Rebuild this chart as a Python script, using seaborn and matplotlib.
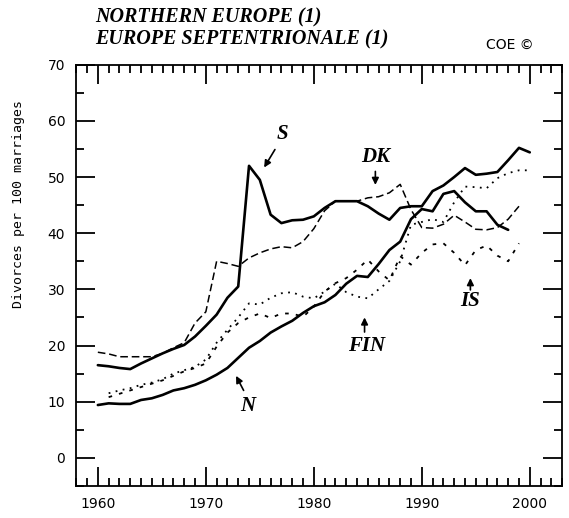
import matplotlib
matplotlib.use("Agg")
import matplotlib.pyplot as plt
import seaborn as sns
from matplotlib.ticker import MultipleLocator

# Total divorce rate, divorces per 100 marriages
years_s = list(range(1960, 2001))
sweden = [16.5, 16.3, 16.0, 15.8, 16.8, 17.7, 18.6, 19.4, 20.1, 21.6,
          23.5, 25.5, 28.5, 30.5, 52.0, 49.5, 43.3, 41.8, 42.3, 42.4,
          43.0, 44.5, 45.7, 45.7, 45.7, 44.8, 43.5, 42.4, 44.5, 44.8,
          44.8, 47.5, 48.5, 50.0, 51.6, 50.4, 50.6, 50.9, 53.0, 55.2,
          54.4]

years_n = list(range(1960, 1999))
norway = [9.4, 9.7, 9.6, 9.6, 10.3, 10.6, 11.2, 12.0, 12.4, 13.0,
          13.8, 14.8, 16.0, 17.8, 19.6, 20.8, 22.3, 23.4, 24.4, 25.8,
          27.0, 27.7, 29.0, 31.0, 32.4, 32.2, 34.5, 37.0, 38.5, 42.5,
          44.3, 43.9, 47.0, 47.5, 45.5, 43.9, 43.9, 41.5, 40.6]

years_dk = list(range(1960, 2000))
denmark = [18.8, 18.5, 18.0, 18.0, 18.0, 18.0, 18.6, 19.6, 20.5, 24.0,
           26.0, 35.0, 34.6, 34.1, 35.6, 36.5, 37.2, 37.6, 37.4, 38.5,
           40.8, 44.0, 45.7, 45.7, 45.7, 46.3, 46.5, 47.2, 48.7, 44.2,
           41.0, 40.9, 41.6, 43.2, 42.0, 40.7, 40.6, 41.0, 42.5, 44.8]

years_fin = list(range(1961, 2001))
finland = [11.5, 12.0, 12.4, 13.0, 13.4, 14.0, 15.0, 15.6, 16.2,
           17.5, 20.5, 22.8, 25.0, 27.5, 27.3, 28.5, 29.3, 29.5, 28.7,
           28.4, 29.6, 31.0, 29.5, 28.7, 28.4, 30.0, 31.5, 35.0, 41.5,
           42.0, 42.5, 42.0, 45.5, 48.3, 48.2, 48.0, 49.8, 50.7, 51.2,
           51.2]

years_is = list(range(1961, 2000))
iceland = [10.8, 11.4, 12.0, 12.6, 13.2, 13.8, 14.6, 15.4, 16.0,
           16.8, 19.8, 22.3, 24.0, 25.0, 25.7, 24.9, 25.7, 25.7, 25.1,
           26.9, 29.6, 31.1, 32.0, 33.5, 35.3, 33.2, 31.6, 35.9, 34.4,
           36.5, 38.0, 38.2, 36.5, 34.3, 37.0, 37.8, 36.0, 35.0, 38.2]

sns.set_style("ticks")
plt.rcParams["font.family"] = ["DejaVu Sans"]
plt.rcParams["text.color"] = "black"
plt.rcParams["xtick.color"] = "black"
plt.rcParams["ytick.color"] = "black"
plt.rcParams["axes.labelcolor"] = "black"

fig = plt.figure(figsize=(5.69, 5.18), dpi=100)
ax = fig.add_axes([0.134, 0.062, 0.854, 0.813])

sns.lineplot(x=years_s, y=sweden, ax=ax, color="black", lw=1.9)
sns.lineplot(x=years_n, y=norway, ax=ax, color="black", lw=1.9)
sns.lineplot(x=years_dk, y=denmark, ax=ax, color="black", lw=1.1).lines[-1].set_dashes((5, 2.5))
sns.lineplot(x=years_fin, y=finland, ax=ax, color="black", lw=1.3).lines[-1].set_dashes((1, 3))
sns.lineplot(x=years_is, y=iceland, ax=ax, color="black", lw=1.3).lines[-1].set_dashes((2, 4))

ax.set_xlim(1958, 2003)
ax.set_ylim(-5, 70)
ax.xaxis.set_major_locator(MultipleLocator(10))
ax.xaxis.set_minor_locator(MultipleLocator(1))
ax.yaxis.set_major_locator(MultipleLocator(10))
ax.yaxis.set_minor_locator(MultipleLocator(5))
ax.tick_params(which="both", direction="in", top=True, right=True, color="black", width=1.3)
ax.tick_params(which="major", length=14, labelsize=10, pad=8)
ax.tick_params(which="minor", length=6)
for sp in ax.spines.values():
    sp.set_linewidth(1.3)
    sp.set_color("black")

ax.set_ylabel("Divorces per 100 marriages", fontsize=9.5, family="DejaVu Sans Mono")
ax.yaxis.set_label_coords(-0.105, 0.67)

# series labels with small arrows
lab = dict(fontsize=15, fontweight="bold", fontstyle="italic", family="Liberation Serif")
arr = dict(arrowstyle="-|>", color="black", lw=1.2, mutation_scale=10, shrinkA=0, shrinkB=0)
ax.text(1977.1, 57.6, "S", ha="center", va="center", **lab)
ax.annotate("", xy=(1975.4, 51.7), xytext=(1976.4, 54.9), arrowprops=arr)
ax.text(1985.7, 53.5, "DK", ha="center", va="center", **lab)
ax.annotate("", xy=(1985.7, 48.6), xytext=(1985.7, 51.0), arrowprops=arr)
ax.text(1984.9, 19.9, "FIN", ha="center", va="center", **lab)
ax.annotate("", xy=(1984.7, 25.0), xytext=(1984.7, 22.4), arrowprops=arr)
ax.text(1994.5, 27.9, "IS", ha="center", va="center", **lab)
ax.annotate("", xy=(1994.5, 32.0), xytext=(1994.5, 29.9), arrowprops=arr)
ax.text(1973.9, 9.2, "N", ha="center", va="center", **lab)
ax.annotate("", xy=(1972.8, 14.6), xytext=(1973.5, 12.0), arrowprops=arr)

tfont = dict(fontsize=14.5, fontweight="bold", fontstyle="italic", family="Liberation Serif")
fig.text(0.167, 0.967, "NORTHERN EUROPE (1)", ha="left", va="center", **tfont)
fig.text(0.167, 0.923, "EUROPE SEPTENTRIONALE (1)", ha="left", va="center", **tfont)
fig.text(0.896, 0.913, "COE \u00a9", ha="center", va="center", fontsize=10)

fig.savefig("out.png", dpi=100)
